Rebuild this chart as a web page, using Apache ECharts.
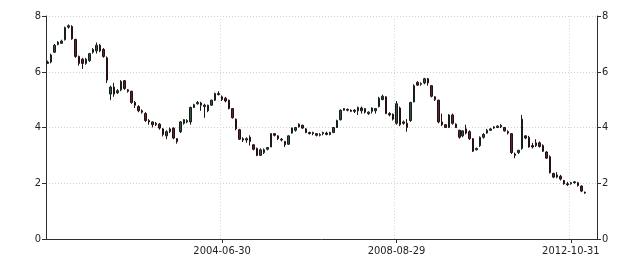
<!DOCTYPE html>
<html><head><meta charset="utf-8">
<script src="https://cdn.jsdelivr.net/npm/echarts@6/dist/echarts.min.js"></script>
<style>html,body{margin:0;padding:0;background:#fff}#c{width:640px;height:270px}</style>
</head><body><div id="c"></div>
<script>
// first month of the category axis and number of monthly slots
const startYear = 2000, startMonth = 4, monthCount = 158;
const tickLabels = ['2004-06-30', '2008-08-29', '2012-10-31'];
const yTicks = [0, 2, 4, 6, 8];
// monthly OHLC: [open, close, low, high]
const ohlc = [
[6.30,6.35,6.28,6.40],[6.35,6.60,6.30,6.65],[6.70,6.95,6.68,7.00],[6.98,7.06,6.95,7.10],
[7.02,7.10,7.00,7.15],[7.15,7.58,7.12,7.62],[7.60,7.65,7.55,7.70],[7.62,7.18,7.15,7.67],
[7.16,6.55,6.50,7.18],[6.55,6.30,6.22,6.58],[6.45,6.30,6.10,6.50],[6.30,6.45,6.25,6.50],
[6.40,6.65,6.35,6.68],[6.70,6.80,6.65,6.85],[6.75,6.95,6.65,7.05],[6.95,6.75,6.70,7.00],
[6.80,6.55,6.50,6.85],[6.50,5.70,5.60,6.55],[5.20,5.45,4.98,5.50],[5.45,5.20,5.10,5.60],
[5.25,5.32,5.20,5.38],[5.35,5.65,5.30,5.70],[5.68,5.40,5.35,5.70],[5.35,5.30,5.25,5.38],
[5.30,4.90,4.85,5.32],[4.90,4.80,4.70,4.95],[4.75,4.60,4.55,4.80],[4.60,4.55,4.50,4.65],
[4.50,4.25,4.20,4.55],[4.25,4.20,4.10,4.30],[4.20,4.10,4.00,4.22],[4.10,4.15,4.05,4.20],
[4.12,3.98,3.92,4.16],[3.95,3.75,3.68,3.98],[3.70,3.85,3.58,3.90],[3.85,3.95,3.80,4.00],
[3.98,3.62,3.58,4.00],[3.60,3.50,3.42,3.62],[3.85,4.20,3.80,4.23],[4.15,4.28,4.10,4.30],
[4.20,4.25,4.15,4.30],[4.20,4.72,4.10,4.75],[4.72,4.82,4.70,4.85],[4.85,4.90,4.82,4.95],
[4.88,4.80,4.60,4.92],[4.80,4.75,4.35,4.85],[4.60,4.80,4.55,4.82],[4.80,4.98,4.78,5.00],
[4.98,5.22,4.95,5.25],[5.22,5.18,5.15,5.30],[5.10,5.00,4.95,5.15],[5.05,4.95,4.90,5.10],
[4.98,4.68,4.65,5.00],[4.68,4.35,4.32,4.70],[4.30,3.95,3.90,4.32],[3.92,3.58,3.55,3.95],
[3.60,3.55,3.48,3.65],[3.55,3.60,3.45,3.65],[3.65,3.50,3.35,3.72],[3.38,3.22,3.18,3.40],
[3.25,3.00,2.97,3.28],[3.00,3.20,2.98,3.25],[3.10,3.20,3.05,3.25],[3.22,3.28,3.18,3.30],
[3.30,3.78,3.30,3.80],[3.78,3.72,3.68,3.80],[3.70,3.60,3.55,3.72],[3.58,3.55,3.50,3.62],
[3.50,3.38,3.30,3.52],[3.40,3.70,3.38,3.72],[3.80,3.98,3.78,4.00],[3.90,4.00,3.85,4.02],
[4.02,4.12,4.00,4.15],[4.08,3.98,3.95,4.10],[3.95,3.82,3.80,3.98],[3.82,3.78,3.75,3.85],
[3.78,3.82,3.72,3.85],[3.78,3.72,3.68,3.80],[3.72,3.75,3.68,3.80],[3.78,3.82,3.72,3.85],
[3.80,3.75,3.72,3.85],[3.75,3.82,3.72,3.85],[3.82,4.00,3.80,4.02],[4.00,4.25,3.98,4.28],
[4.28,4.62,4.25,4.65],[4.62,4.68,4.60,4.70],[4.65,4.62,4.58,4.68],[4.62,4.58,4.55,4.65],
[4.62,4.58,4.52,4.66],[4.60,4.72,4.45,4.75],[4.70,4.60,4.50,4.75],[4.55,4.68,4.50,4.70],
[4.50,4.55,4.45,4.58],[4.58,4.70,4.50,4.72],[4.60,4.68,4.50,4.70],[4.75,5.05,4.72,5.10],
[5.00,5.12,4.98,5.18],[5.10,4.50,4.48,5.12],[4.50,4.45,4.40,4.55],[4.48,4.30,4.25,4.50],
[4.15,4.85,4.10,4.95],[4.70,4.10,4.05,4.75],[4.20,4.15,4.10,4.25],[4.15,4.00,3.85,4.30],
[4.25,4.90,4.20,4.92],[4.92,5.50,4.90,5.55],[5.62,5.52,5.50,5.66],[5.55,5.58,5.50,5.62],
[5.60,5.75,5.55,5.78],[5.75,5.60,5.50,5.78],[5.50,5.12,5.08,5.52],[5.10,5.00,4.95,5.12],
[4.98,4.20,4.15,5.00],[4.20,4.10,4.05,4.50],[4.10,4.00,3.98,4.12],[4.00,4.45,3.98,4.48],
[4.45,4.15,4.10,4.50],[4.12,4.00,3.98,4.15],[3.90,3.65,3.60,3.92],[3.70,3.88,3.65,3.90],
[3.95,3.80,3.75,4.10],[3.85,3.60,3.55,3.90],[3.60,3.15,3.12,3.62],[3.20,3.25,3.18,3.28],
[3.35,3.65,3.30,3.68],[3.65,3.75,3.60,3.80],[3.80,3.90,3.78,3.95],[3.90,3.95,3.88,3.98],
[3.98,4.02,3.95,4.05],[4.00,4.05,3.98,4.08],[4.02,4.08,3.98,4.12],[4.00,3.88,3.85,4.02],
[3.85,3.80,3.75,3.90],[3.78,3.10,3.05,3.80],[3.05,3.00,2.90,3.10],[3.10,3.18,3.05,3.20],
[3.25,4.30,3.20,4.45],[3.70,3.62,3.58,3.72],[3.65,3.30,3.28,3.70],[3.35,3.30,3.25,3.45],
[3.35,3.45,3.30,3.58],[3.45,3.32,3.28,3.50],[3.35,3.15,3.12,3.40],[3.12,2.90,2.88,3.15],
[2.95,2.38,2.35,3.00],[2.35,2.22,2.18,2.38],[2.22,2.30,2.18,2.40],[2.25,2.15,2.10,2.30],
[2.10,1.98,1.95,2.12],[1.98,1.95,1.90,2.05],[1.98,2.02,1.95,2.05],[2.02,2.05,1.98,2.08],
[2.02,1.92,1.88,2.05],[1.90,1.72,1.68,1.92],[1.68,1.65,1.62,1.70]
];

const categories = [];
for (let i = 0; i < monthCount; i++) {
  const m = startMonth - 1 + i;
  const y = startYear + Math.floor(m / 12);
  const mm = String(m % 12 + 1).padStart(2, '0');
  const key = y + '-' + mm;
  const hit = tickLabels.find(t => t.startsWith(key));
  categories.push(hit || key);
}
const isTick = (idx, val) => tickLabels.indexOf(val) >= 0;

const font = "'Liberation Sans Narrow','DejaVu Sans Condensed',sans-serif";
const axisCol = '#2e2e2e';
const yAxisBase = {
  type: 'value', min: 0, max: 8, interval: 2,
  axisLine: { show: true, lineStyle: { color: axisCol, width: 1 } },
  axisTick: { show: true, length: 4, lineStyle: { color: axisCol } },
  axisLabel: { color: '#222', fontSize: 11, fontFamily: font, margin: 5,
    formatter: v => yTicks.indexOf(v) >= 0 ? String(v) : '' }
};

const chart = echarts.init(document.getElementById('c'), null, { renderer: 'canvas' });
chart.setOption({
  animation: false,
  backgroundColor: '#fff',
  grid: { left: 46, right: 43, top: 16, bottom: 31, containLabel: false },
  xAxis: {
    type: 'category', data: categories, boundaryGap: true,
    axisLine: { show: true, lineStyle: { color: axisCol, width: 1 } },
    axisTick: { show: true, interval: isTick, alignWithLabel: true, length: 4, lineStyle: { color: axisCol } },
    axisLabel: { interval: isTick, color: '#222', fontSize: 11, fontFamily: font, margin: 7 },
    splitLine: { show: true, interval: isTick, lineStyle: { color: '#d8d8d8', type: [1, 2], width: 1 } }
  },
  yAxis: [
    Object.assign({}, yAxisBase, { position: 'left',
      splitLine: { show: true, lineStyle: { color: '#d0d0d0', type: [1, 2], width: 1 } } }),
    Object.assign({}, yAxisBase, { position: 'right', splitLine: { show: false } })
  ],
  series: [{
    type: 'candlestick',
    yAxisIndex: 0,
    data: ohlc,
    barWidth: 2,
    itemStyle: {
      color: '#34523b', color0: '#5e242b',
      borderColor: '#16201a', borderColor0: '#221012', borderWidth: 1
    }
  }]
});
</script>
</body></html>
